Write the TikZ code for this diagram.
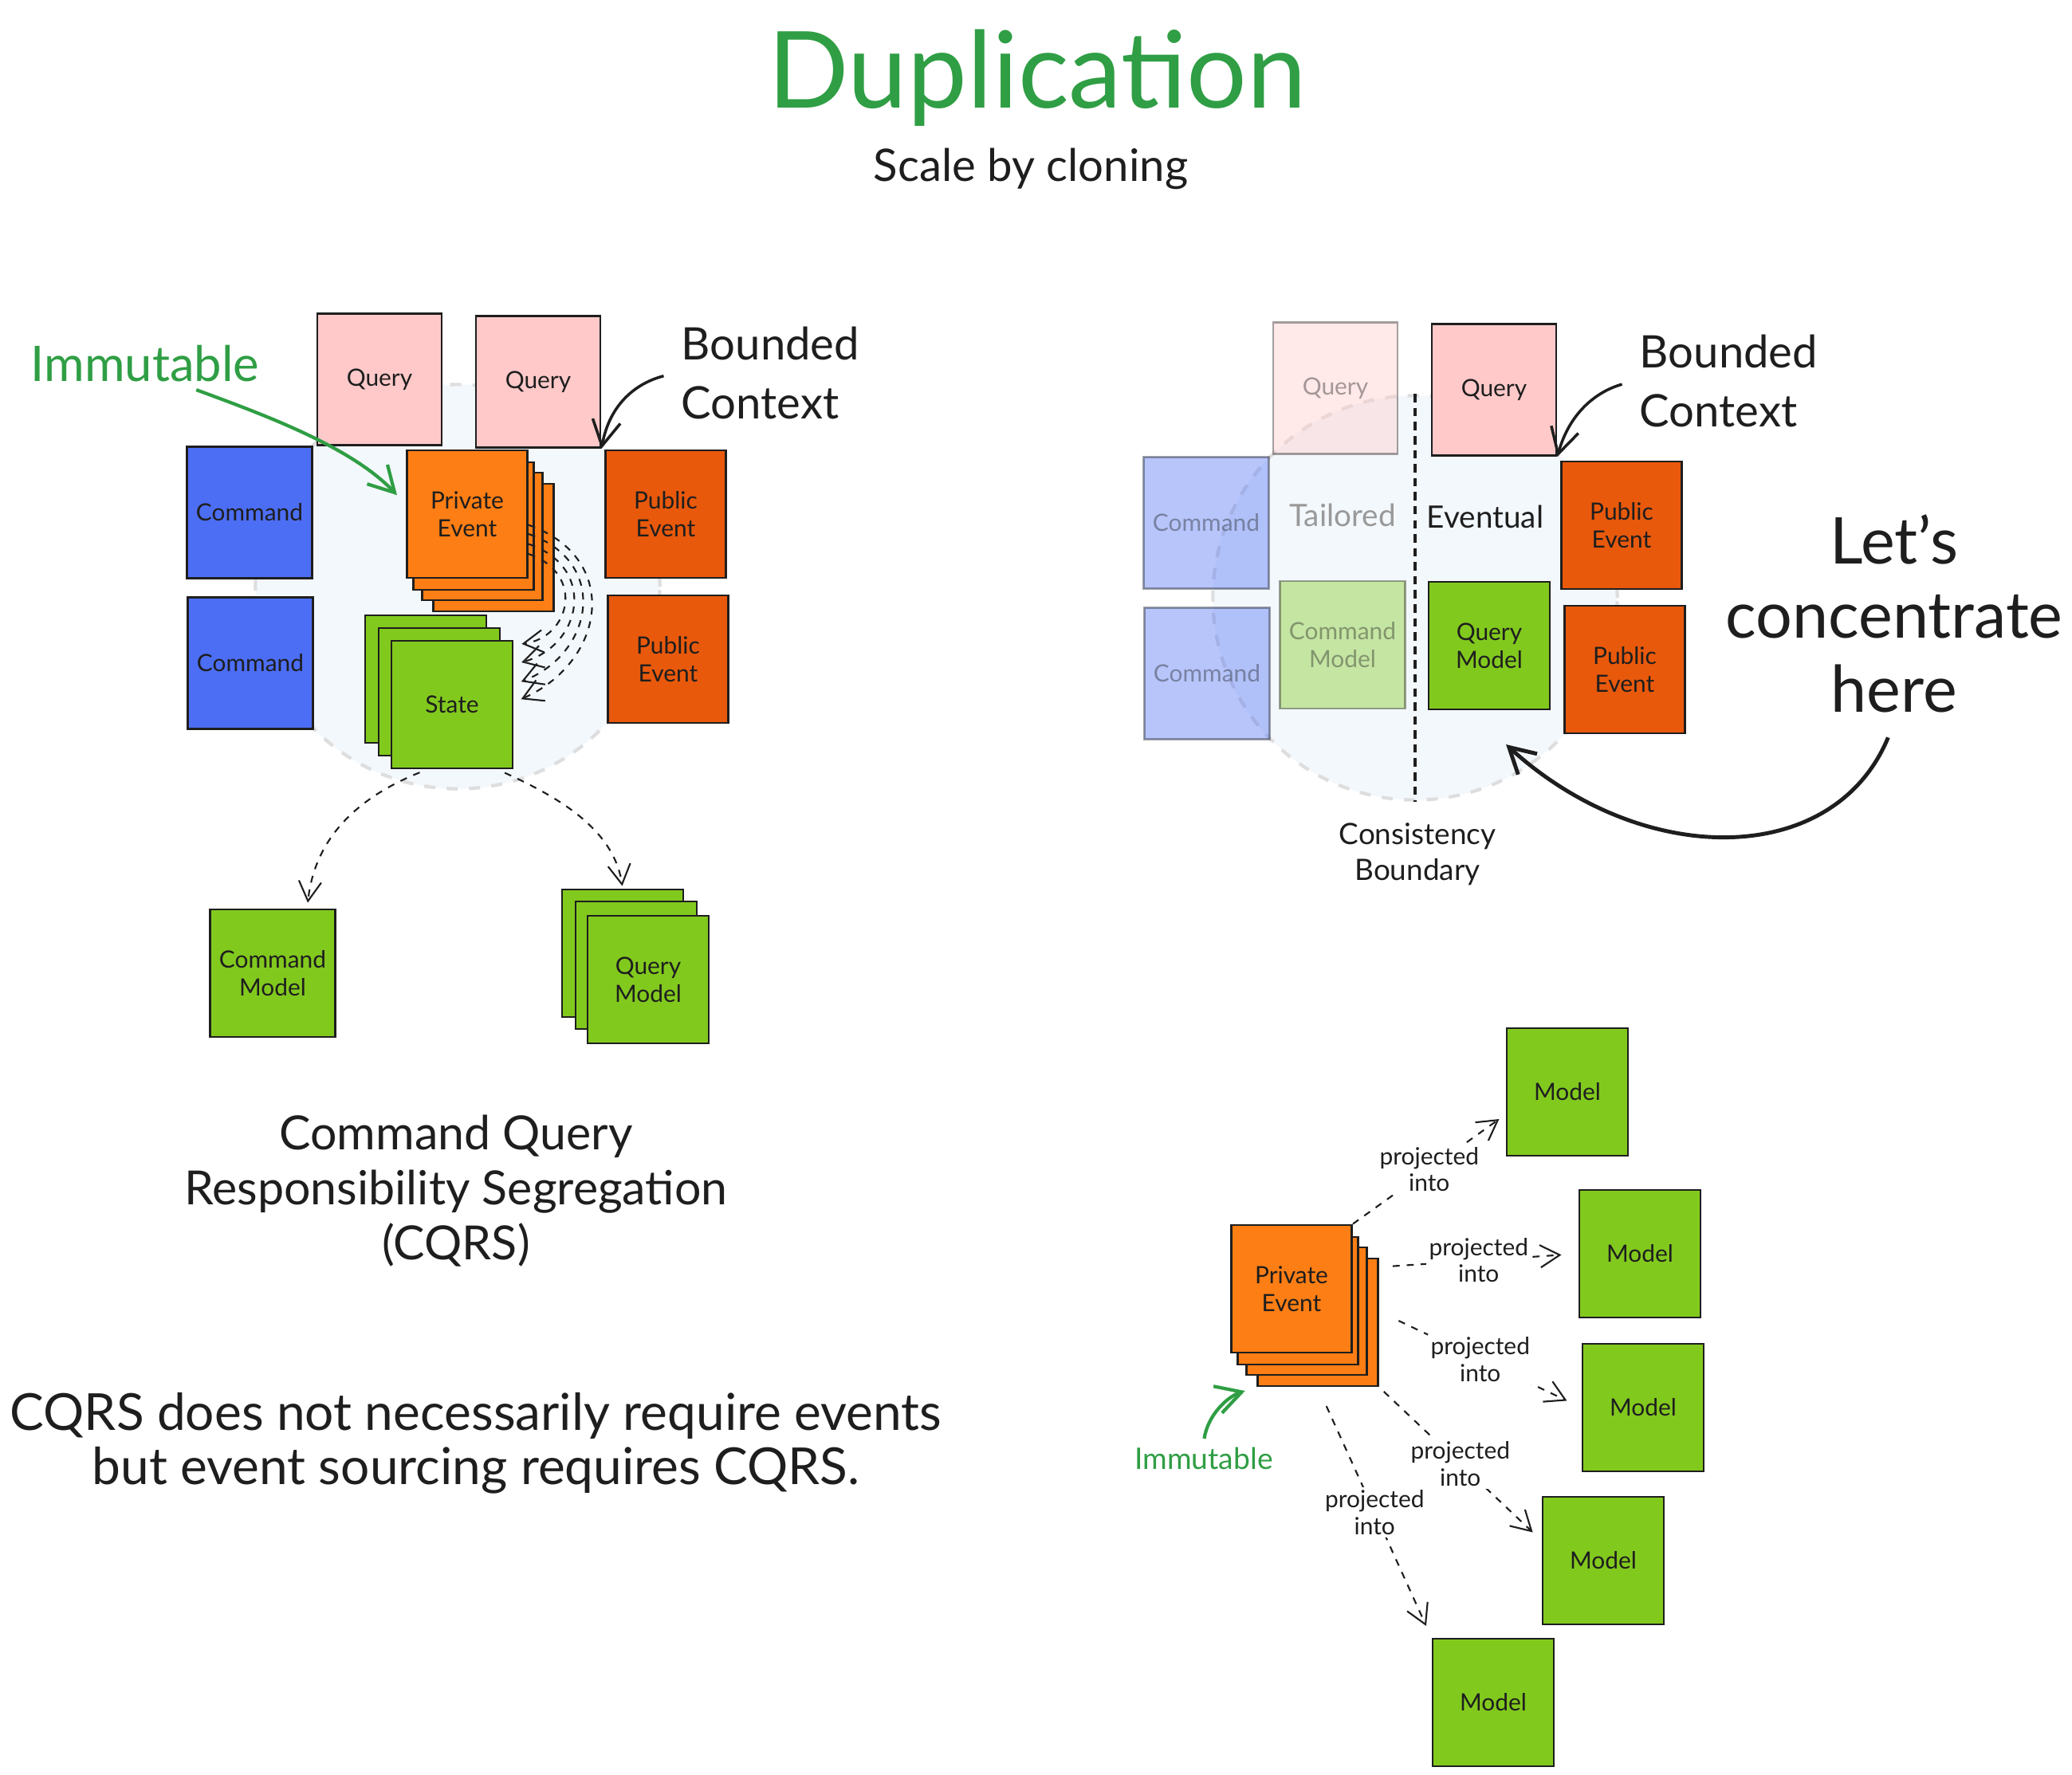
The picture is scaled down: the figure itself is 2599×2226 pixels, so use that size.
\documentclass[tikz,border=0pt]{standalone}
\usepackage{fontspec}
\setmainfont{Lato}
\usetikzlibrary{arrows.meta, positioning, shapes.geometric}

\definecolor{qpink}{HTML}{FFC9C9}
\definecolor{cblue}{HTML}{4C6EF5}
\definecolor{evorange}{HTML}{FD7E14}
\definecolor{puborange}{HTML}{E8590C}
\definecolor{stgreen}{HTML}{82C91E}
\definecolor{txgreen}{HTML}{2F9E44}
\definecolor{ctxfill}{HTML}{F3F8FD}
\definecolor{ink}{HTML}{1E1E1E}

\begin{document}
\begin{tikzpicture}[x=0.01cm,y=-0.01cm,
    every node/.style={text=ink}]
  \tikzstyle{nodeQ}=[rectangle,thick,draw=ink,fill=qpink,minimum width=15.6mm,minimum height=16.5mm,align=center,font=\fontsize{8.5}{10}\selectfont]
  \tikzstyle{nodeC}=[rectangle,thick,draw=ink,fill=cblue,minimum width=15.6mm,minimum height=16.5mm,align=center,font=\fontsize{8.5}{10}\selectfont]
  \tikzstyle{nodeE}=[rectangle,thick,draw=ink,fill=evorange,minimum width=15.1mm,minimum height=16mm,align=center,font=\fontsize{8.5}{10}\selectfont]
  \tikzstyle{nodeP}=[rectangle,thick,draw=ink,fill=puborange,minimum width=15.1mm,minimum height=16mm,align=center,font=\fontsize{8.5}{10}\selectfont]
  \tikzstyle{nodeS}=[rectangle,thick,draw=ink,fill=stgreen,minimum width=15.2mm,minimum height=16mm,align=center,font=\fontsize{8.5}{10}\selectfont]
  \tikzstyle{ctxC}=[circle,draw=black!13,fill=ctxfill,line width=1.2pt,dash pattern=on 4pt off 4pt,minimum size=50.7mm,inner sep=0pt]
  \tikzstyle{arrD}=[draw=ink,semithick,dash pattern=on 2.5pt off 2.5pt,-{Straight Barb[length=7pt,width=8pt]}]
  \tikzstyle{arrB}=[draw=ink,line width=1pt,-{Straight Barb[length=9pt,width=10pt]}]
  \tikzstyle{arrG}=[draw=txgreen,line width=1.2pt,-{Straight Barb[length=9pt,width=10pt]}]
  \tikzstyle{lblP}=[fill=white,inner sep=1pt,align=center,font=\fontsize{8.5}{9.5}\selectfont]
  \tikzstyle{txtH}=[text=txgreen,font=\fontsize{38}{42}\selectfont]
  \tikzstyle{txtSub}=[font=\fontsize{16}{19}\selectfont]
  \tikzstyle{txtG}=[text=txgreen,inner sep=2pt,font=\fontsize{17.5}{20}\selectfont]
  \tikzstyle{txtB}=[align=left,inner sep=2pt,font=\fontsize{16}{21}\selectfont]
  \tikzstyle{txtT}=[align=center,font=\fontsize{16.8}{19.6}\selectfont]
  \tikzstyle{txtN}=[align=center,font=\fontsize{18.2}{19.4}\selectfont]
  \tikzstyle{txtL}=[align=center,font=\fontsize{23}{26.5}\selectfont]
  \tikzstyle{txtM}=[font=\fontsize{11}{13}\selectfont]
  \tikzstyle{txtS}=[align=center,font=\fontsize{10.5}{12.8}\selectfont]

  \fill[white] (0,0) rectangle (2599,2226);
  \useasboundingbox (0,0) rectangle (2599,2226);

  % Title
  \node[txtH]   (title) at (1301,98) {Duplication};
  \node[txtSub] (sub)   at (1293,212) {Scale by cloning};

  % Bounded contexts
  \node[ctxC] (cb_l) at (574,736)  {};
  \node[ctxC] (cb_r) at (1775,750) {};

  % CQRS context (left)
  \node[nodeQ] (q_01) at (476,476) {Query};
  \node[nodeQ] (q_02) at (675,479) {Query};
  \node[nodeC] (c_01) at (313,643) {Command};
  \node[nodeC] (c_02) at (314,832) {Command};
  \node[nodeE] (pe_03) at (619,687) {};
  \node[nodeE] (pe_02) at (605,673) {};
  \node[nodeE] (pe_01) at (594,660) {};
  \node[nodeE] (pe_00) at (586,645) {Private\\Event};
  \node[nodeP] (pu_01) at (835,645) {Public\\Event};
  \node[nodeP] (pu_02) at (838,827) {Public\\Event};
  \node[nodeS] (st_02) at (534,852) {};
  \node[nodeS] (st_01) at (551,868) {};
  \node[nodeS] (st_00) at (567,884) {State};
  \node[nodeS] (cm_00) at (342,1221) {Command\\Model};
  \node[nodeS] (qm_02) at (781,1196) {};
  \node[nodeS] (qm_01) at (798,1211) {};
  \node[nodeS] (qm_00) at (813,1229) {Query\\Model};

  \node[txtG] (imm_l) at (182,456) {Immutable};
  \node[txtB, anchor=west] (bc_l) at (847,468) {Bounded\\Context};
  \node[txtT] (cqrs) at (572,1494) {Command Query\\Responsibility Segregation\\(CQRS)};
  \node[txtN] (note) at (597,1811) {CQRS does not necessarily require events\\but event sourcing requires CQRS.};

  \draw[arrG, shorten <=2pt, shorten >=1.6mm] (imm_l.-28) .. controls (330,520) and (440,560) .. (pe_00.171);
  \draw[arrB, shorten <=1.5mm] (bc_l.west) .. controls (800,480) and (765,505) .. (q_02.south east);
  \draw[arrD, shorten >=1mm] (pe_00.-10) .. controls (780,700) and (760,830) .. (st_00.2);
  \draw[arrD, shorten >=1mm] (pe_00.-18) .. controls (765,705) and (745,820) .. (st_00.18);
  \draw[arrD, shorten >=1mm] (pe_00.-26) .. controls (750,712) and (730,810) .. (st_00.33);
  \draw[arrD, shorten >=1mm] (pe_00.-33) .. controls (735,720) and (715,800) .. (st_00.44);
  \draw[arrD, shorten <=1mm, shorten >=0.7mm] (st_00.249) .. controls (450,1000) and (395,1050) .. (cm_00.62);
  \draw[arrD, shorten <=1mm, shorten >=0.3mm] (st_00.-55) .. controls (700,1000) and (770,1040) .. (qm_02.north);

  % Consistency boundary (right)
  \node[nodeQ, opacity=.4] (q_11) at (1675,487) {Query};
  \node[nodeQ] (q_12) at (1874,489) {Query};
  \node[nodeC, opacity=.4] (c_11) at (1513,656) {Command};
  \node[nodeC, opacity=.4] (c_12) at (1514,845) {Command};
  \node[nodeS, opacity=.4] (cm_10) at (1684,809) {Command\\Model};
  \node[nodeS] (qm_10) at (1868,810) {Query\\Model};
  \node[nodeP] (pu_11) at (2034,659) {Public\\Event};
  \node[nodeP] (pu_12) at (2038,840) {Public\\Event};
  \node[txtM, text=black!40] (tail) at (1684,646) {Tailored};
  \node[txtM] (evnt) at (1863,648) {Eventual};
  \node[txtB, anchor=west] (bc_r) at (2049,478) {Bounded\\Context};
  \node[txtL] (lets) at (2376,770) {Let's\\concentrate\\here};
  \node[txtS] (cons) at (1778,1072) {Consistency\\Boundary};
  \coordinate (focus) at (1889,934);

  \draw[draw=ink, line width=1pt, dash pattern=on 3pt off 2pt] (cb_r.north) -- (cb_r.south);
  \draw[arrB, shorten <=1.5mm] (bc_r.west) .. controls (2000,492) and (1968,520) .. (q_12.south east);
  \draw[arrB, line width=1.4pt, shorten <=2mm] (lets.south) .. controls (2300,1090) and (2060,1090) .. (focus);

  % Projections (bottom right)
  \node[nodeE] (pe_13) at (1653,1659) {};
  \node[nodeE] (pe_12) at (1639,1645) {};
  \node[nodeE] (pe_11) at (1628,1632) {};
  \node[nodeE] (pe_10) at (1620,1617) {Private\\Event};
  \node[nodeS] (m_1) at (1966,1370) {Model};
  \node[nodeS] (m_2) at (2057,1573) {Model};
  \node[nodeS] (m_3) at (2061,1766) {Model};
  \node[nodeS] (m_4) at (2011,1958) {Model};
  \node[nodeS] (m_5) at (1873,2136) {Model};
  \node[txtG, font=\fontsize{10.6}{12}\selectfont] (imm_r) at (1510,1830) {Immutable};

  \draw[arrD, shorten >=1mm] (pe_10.north east) -- node[lblP] {projected\\into} (m_1.200);
  \draw[arrD, shorten <=1.7mm, shorten >=2.1mm] (pe_13.42) -- node[lblP] {projected\\into} (m_2.west);
  \draw[arrD, shorten <=2.7mm, shorten >=2mm] (pe_13.10) -- node[lblP] {projected\\into} (m_3.west);
  \draw[arrD, shorten <=0.8mm, shorten >=1.5mm] (pe_13.south east) -- node[lblP] {projected\\into} (m_4.162);
  \draw[arrD, shorten <=2.6mm, shorten >=1.6mm] (pe_13.south) -- node[lblP] {projected\\into} (m_5.north west);
  \draw[arrG, shorten <=1pt, shorten >=1.5mm] (imm_r.north) .. controls (1515,1775) and (1540,1752) .. (pe_13.south west);
\end{tikzpicture}
\end{document}
